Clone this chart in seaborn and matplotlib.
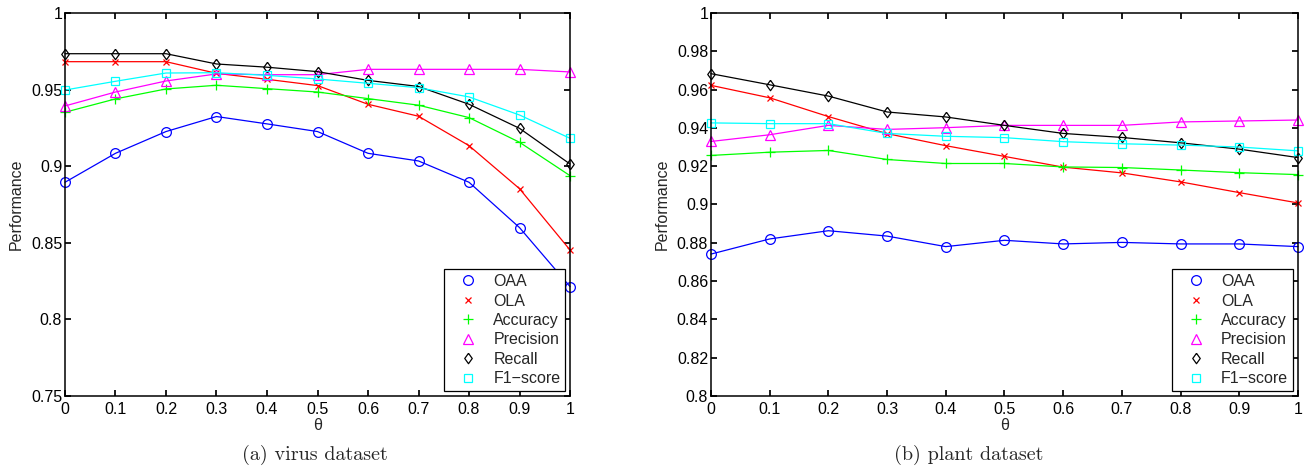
import matplotlib
matplotlib.use('Agg')
import matplotlib.pyplot as plt
import numpy as np
import seaborn as sns
from matplotlib.lines import Line2D
from matplotlib.ticker import FuncFormatter

# theta values
theta = [0, 0.1, 0.2, 0.3, 0.4, 0.5, 0.6, 0.7, 0.8, 0.9, 1.0]

# (a) virus dataset
virus_oaa = [0.8895, 0.9084, 0.9226, 0.9324, 0.9276, 0.9226, 0.9084, 0.9034, 0.8895, 0.8599, 0.8214]
virus_ola = [0.9682, 0.9682, 0.9682, 0.9606, 0.9567, 0.9526, 0.9404, 0.9326, 0.9134, 0.8853, 0.8453]
virus_acc = [0.9352, 0.9439, 0.9504, 0.9528, 0.9506, 0.9484, 0.9441, 0.9398, 0.9317, 0.9156, 0.8938]
virus_prec = [0.9393, 0.9484, 0.9556, 0.9602, 0.9597, 0.9597, 0.9632, 0.9632, 0.9632, 0.9632, 0.9615]
virus_rec = [0.9734, 0.9734, 0.9734, 0.9667, 0.9646, 0.9617, 0.9560, 0.9520, 0.9404, 0.9247, 0.9014]
virus_f1 = [0.9497, 0.9554, 0.9608, 0.9610, 0.9593, 0.9569, 0.9541, 0.9512, 0.9452, 0.9334, 0.9182]

# (b) plant dataset
plant_oaa = [0.8741, 0.8820, 0.8863, 0.8835, 0.8780, 0.8813, 0.8794, 0.8802, 0.8794, 0.8794, 0.8780]
plant_ola = [0.9622, 0.9557, 0.9459, 0.9370, 0.9307, 0.9251, 0.9195, 0.9165, 0.9118, 0.9062, 0.9008]
plant_acc = [0.9256, 0.9273, 0.9282, 0.9235, 0.9214, 0.9214, 0.9196, 0.9193, 0.9180, 0.9166, 0.9156]
plant_prec = [0.9329, 0.9364, 0.9413, 0.9392, 0.9401, 0.9413, 0.9413, 0.9413, 0.9431, 0.9436, 0.9441]
plant_rec = [0.9683, 0.9625, 0.9566, 0.9483, 0.9457, 0.9413, 0.9371, 0.9350, 0.9322, 0.9289, 0.9245]
plant_f1 = [0.9426, 0.9422, 0.9422, 0.9371, 0.9356, 0.9349, 0.9328, 0.9317, 0.9310, 0.9300, 0.9280]

series_names = ['OAA', 'OLA', 'Accuracy', 'Precision', 'Recall', 'F1\u2212score']

sns.set_theme(style='ticks')
plt.rcParams['font.family'] = ['Liberation Sans', 'DejaVu Sans']
plt.rcParams['xtick.direction'] = 'in'
plt.rcParams['ytick.direction'] = 'in'
plt.rcParams['xtick.top'] = True
plt.rcParams['ytick.right'] = True
plt.rcParams['axes.edgecolor'] = 'black'
plt.rcParams['axes.linewidth'] = 1.1
plt.rcParams['xtick.color'] = 'black'
plt.rcParams['ytick.color'] = 'black'
plt.rcParams['xtick.major.size'] = 4
plt.rcParams['ytick.major.size'] = 4

# MATLAB-like diamond (wider than matplotlib's thin 'd')
diamond = [(0, 1), (0.72, 0), (0, -1), (-0.72, 0), (0, 1)]

# colour, marker, marker size
styles = [
    ('#0000ff', 'o', 7),
    ('#ff0000', 'x', 4),
    ('#00ff00', '+', 7),
    ('#ff00ff', '^', 7),
    ('#000000', diamond, 7.5),
    ('#00ffff', 's', 5.5),
]

FS = 11.5


def draw_panel(ax, data, ylim, yticks):
    for vals, name, (c, m, ms) in zip(data, series_names, styles):
        sns.lineplot(x=theta, y=vals, ax=ax, color=c, linewidth=0.9,
                     marker=m, markersize=ms, markerfacecolor='none',
                     markeredgecolor=c, markeredgewidth=0.9, clip_on=False)
    ax.set_xlim(0, 1)
    ax.set_ylim(*ylim)
    ax.set_xticks(theta)
    ax.set_yticks(yticks)
    fmt = FuncFormatter(lambda v, p: '%g' % round(v, 3))
    ax.xaxis.set_major_formatter(fmt)
    ax.yaxis.set_major_formatter(fmt)
    ax.tick_params(labelsize=FS)
    ax.tick_params(axis='x', pad=4)
    ax.tick_params(axis='y', pad=2)
    ax.set_xlabel('\u03b8', fontsize=FS, labelpad=1)
    ax.set_ylabel('Performance', fontsize=FS, labelpad=5)
    handles = [Line2D([], [], linestyle='none', marker=m, markersize=ms,
                      markerfacecolor='none', markeredgecolor=c, markeredgewidth=0.9)
               for (c, m, ms) in styles]
    leg = ax.legend(handles, series_names, loc='lower right', fontsize=FS,
                    frameon=True, fancybox=False, framealpha=1, edgecolor='black',
                    borderpad=0.3, labelspacing=0.28, handletextpad=0.4,
                    handlelength=2.4, borderaxespad=0.3)
    leg.get_frame().set_linewidth(0.9)


fig = plt.figure(figsize=(13.05, 4.66), dpi=100)
ax1 = fig.add_axes([0.0498, 0.1502, 0.387, 0.822])
ax2 = fig.add_axes([0.5448, 0.1502, 0.4498, 0.822])

draw_panel(ax1, [virus_oaa, virus_ola, virus_acc, virus_prec, virus_rec, virus_f1],
           (0.75, 1.0), [0.75, 0.8, 0.85, 0.9, 0.95, 1.0])
draw_panel(ax2, [plant_oaa, plant_ola, plant_acc, plant_prec, plant_rec, plant_f1],
           (0.8, 1.0), [0.8, 0.82, 0.84, 0.86, 0.88, 0.9, 0.92, 0.94, 0.96, 0.98, 1.0])

# sub-figure captions
fig.text(0.2414, 0.024, '(a) virus dataset', ha='center', va='center',
         fontsize=14.5, family='cmr10')
fig.text(0.742, 0.024, '(b) plant dataset', ha='center', va='center',
         fontsize=14.5, family='cmr10')

fig.savefig('out.png', dpi=100)
plt.close(fig)
